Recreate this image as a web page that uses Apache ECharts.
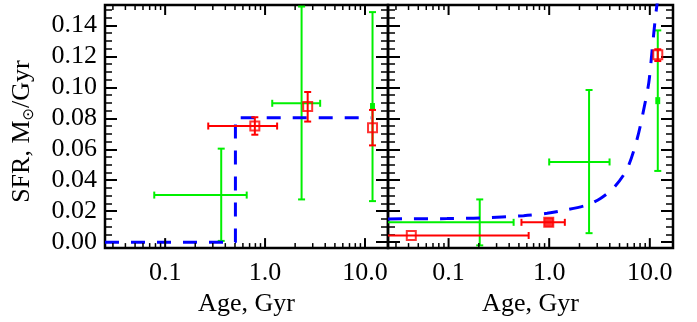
<!DOCTYPE html>
<html><head><meta charset="utf-8">
<script src="https://cdn.jsdelivr.net/npm/echarts@6/dist/echarts.min.js"></script>
<style>html,body{margin:0;padding:0;background:#fff}#c{width:697px;height:322px}</style>
</head><body><div id="c"></div>
<script>
// ---- tick values ----
const xTickLabels = [0.1, 1, 10];
const xMinorTicks = [0.03,0.04,0.05,0.06,0.07,0.08,0.09,0.2,0.3,0.4,0.5,0.6,0.7,0.8,0.9,2,3,4,5,6,7,8,9];
const yTickLabels = [0, 0.02, 0.04, 0.06, 0.08, 0.10, 0.12, 0.14];
const yMinorTicks = [0.005,0.01,0.015,0.025,0.03,0.035,0.045,0.05,0.055,0.065,0.07,0.075,0.085,0.09,0.095,0.105,0.11,0.115,0.125,0.13,0.135,0.145,0.15];
// ---- data: [age, sfr, ageLo, ageHi, sfrLo, sfrHi] ----
const leftRed   = [[0.79,0.075,0.27,1.32,0.0694,0.0807],[2.67,0.0876,null,null,0.0779,0.097],[11.9,0.0739,null,null,0.0625,0.0854]];
const leftGreen = [[0.364,0.0304,0.0778,0.655,0.0008,0.0604],[2.32,0.0897,1.18,3.56,0.0276,0.1522],[11.9,0.0876,11.5,12.3,0.0265,0.1486]];
const leftModel = [[0.025,0],[0.505,0],[0.505,0.0803],[11.5,0.0803]];
const rightRed   = [[0.0426,0.0043,0.02,0.625,null,null],[0.99,0.0128,0.53,1.43,null,null],[12.0,0.121,null,null,0.117,0.1246]];
const rightGreen = [[0.204,0.0128,0.02,0.443,-0.0021,0.0276],[2.49,0.0518,1.0,3.98,0.0058,0.0983],[12.0,0.0914,11.6,12.4,0.046,0.1368]];
const rightModel = [[0.025,0.0150],[0.0964,0.0152],[0.206,0.0156],[0.557,0.0171],[0.953,0.0186],[1.39,0.0205],[2.38,0.0240],[3.23,0.0282],[4.38,0.0351],[5.96,0.0475],[7.49,0.0668],[8.72,0.0860],[9.78,0.1032],[10.56,0.1246],[11.4,0.146],[11.85,0.1546]];

const XMIN = 0.025, XMAX = 17, YMIN = -0.00385, YMAX = 0.1532;
const FONT = 'Liberation Serif';
const RED = '#ff0000', GREEN = '#00f000', BLUE = '#0000ff';

function xAxis(g){
  return {type:'log', gridIndex:g, min:XMIN, max:XMAX, position:'bottom',
    axisLine:{show:false,onZero:false}, splitLine:{show:false}, axisTick:{show:false},
    axisLabel:{customValues:xTickLabels, formatter:v=>Number(v).toFixed(1), fontFamily:FONT, fontSize:26, color:'#000', margin:12},
    name:'Age, Gyr', nameLocation:'middle', nameGap:40, nameTextStyle:{fontFamily:FONT, fontSize:26, color:'#000'}};
}
function yAxes(g){
  const base = {type:'value', gridIndex:g, min:YMIN, max:YMAX, axisLine:{show:false,onZero:false}, splitLine:{show:false}};
  const tk = (vals,len,w)=>({show:true,inside:true,length:len,customValues:vals,lineStyle:{color:'#000',width:w}});
  const first = Object.assign({}, base, {position:'left', axisTick:tk(yTickLabels,12,2), axisLabel:{show:false}});
  if (g === 0) {
    first.axisLabel = {customValues:yTickLabels, formatter:v=>Number(v).toFixed(2), fontFamily:FONT, fontSize:26, color:'#000', margin:8};
    first.name = '{n|SFR, M}{o|⊙}{n|/Gyr}';
    first.nameLocation = 'middle';
    first.nameGap = 56;
    first.nameTextStyle = {fontFamily:FONT, fontSize:26, color:'#000', padding:[0,10,0,0],
      rich:{n:{fontFamily:FONT, fontSize:26, lineHeight:26, verticalAlign:'top', color:'#000'},
            o:{fontFamily:'DejaVu Sans', fontSize:15, lineHeight:40, verticalAlign:'middle', color:'#000'}}};
  }
  return [
    first,
    Object.assign({}, base, {position:'left', axisTick:tk(yMinorTicks,7,1.5), axisLabel:{show:false}}),
    Object.assign({}, base, {position:'right', axisTick:tk(yTickLabels,12,2), axisLabel:{show:false}}),
    Object.assign({}, base, {position:'right', axisTick:tk(yMinorTicks,7,1.5), axisLabel:{show:false}})
  ];
}

// plot-area bounds in pixels, obtained through the axis scales
function bounds(api){
  const a = api.coord([XMIN, YMIN]), b = api.coord([XMAX, YMAX]);
  return {l:Math.min(a[0],b[0]), r:Math.max(a[0],b[0]), t:Math.min(a[1],b[1]), b:Math.max(a[1],b[1])};
}
function errRender(color){
  return function(params, api){
    const B = bounds(api);
    const cx = v => Math.max(B.l, Math.min(B.r, v));
    const cy = v => Math.max(B.t, Math.min(B.b, v));
    const v = i => api.value(i);
    const x = v(0), y = v(1), xlo = v(2), xhi = v(3), ylo = v(4), yhi = v(5);
    const P = api.coord([x, y]);
    const cap = 3.5, kids = [];
    const ln = (x1,y1,x2,y2)=>({type:'line', shape:{x1,y1,x2,y2}, style:{stroke:color, lineWidth:2}});
    if (!isNaN(xlo) && !isNaN(xhi)) {
      const a = api.coord([xlo, y])[0], b = api.coord([xhi, y])[0];
      const ca = cx(a), cb = cx(b);
      kids.push(ln(ca, P[1], cb, P[1]));
      if (ca === a) kids.push(ln(a, P[1]-cap, a, P[1]+cap));
      if (cb === b) kids.push(ln(b, P[1]-cap, b, P[1]+cap));
    }
    if (!isNaN(ylo) && !isNaN(yhi)) {
      const a = api.coord([x, ylo])[1], b = api.coord([x, yhi])[1];
      const ca = cy(a), cb = cy(b);
      kids.push(ln(P[0], ca, P[0], cb));
      if (ca === a) kids.push(ln(P[0]-cap, a, P[0]+cap, a));
      if (cb === b) kids.push(ln(P[0]-cap, b, P[0]+cap, b));
    }
    return {type:'group', children:kids};
  };
}
// x-axis ticks (log positions) on bottom and top edges, placed through the axis scale
function xTickRender(params, api){
  const v = api.value(0);
  const bot = api.coord([v, YMIN]), top = api.coord([v, YMAX]);
  const major = api.value(2) === 1;
  const len = major ? 10 : 5, w = major ? 2 : 1.5;
  return {type:'group', children:[
    {type:'line', shape:{x1:bot[0], y1:bot[1], x2:bot[0], y2:bot[1]-len}, style:{stroke:'#000', lineWidth:w}},
    {type:'line', shape:{x1:top[0], y1:top[1], x2:top[0], y2:top[1]+len}, style:{stroke:'#000', lineWidth:w}}
  ]};
}
const tickData = xTickLabels.map(v=>[v, 0.07, 1]).concat(xMinorTicks.map(v=>[v, 0.07, 0]));
const toData = arr => arr.map(r => r.map(v => v === null ? '-' : v));
function panelSeries(g, red, green, model, fillIdx){
  const xi = g, yi = g*4;
  return [
    {type:'custom', xAxisIndex:xi, yAxisIndex:yi, renderItem:xTickRender, dimensions:['x','y','major'], encode:{x:0,y:1}, data:tickData, z:6, silent:true},
    {type:'custom', xAxisIndex:xi, yAxisIndex:yi, renderItem:errRender(GREEN), dimensions:['x','y','xlo','xhi','ylo','yhi'], encode:{x:0,y:1}, data:toData(green), z:2, silent:true},
    {type:'line', xAxisIndex:xi, yAxisIndex:yi, data:model, showSymbol:false, symbol:'none', smooth:g===1 ? 0.3 : false,
      lineStyle:{color:BLUE, width:3, type:[14,12]}, z:3, silent:true, animation:false},
    {type:'custom', xAxisIndex:xi, yAxisIndex:yi, renderItem:errRender(RED), dimensions:['x','y','xlo','xhi','ylo','yhi'], encode:{x:0,y:1}, data:toData(red), z:4, silent:true},
    {type:'scatter', xAxisIndex:xi, yAxisIndex:yi, data:red.map((r,i)=>({value:[r[0], r[1]], itemStyle:{color: i===fillIdx ? RED : 'rgba(255,255,255,0)'}})),
      symbol:'rect', symbolSize:9, itemStyle:{borderColor:RED, borderWidth:2}, z:5, silent:true}
  ];
}

const chart = echarts.init(document.getElementById('c'), null, {renderer:'canvas'});
chart.setOption({
  animation:false,
  backgroundColor:'#fff',
  grid:[
    {left:105, top:5, width:283, height:245, show:true, borderColor:'#000', borderWidth:2.5, backgroundColor:'rgba(0,0,0,0)'},
    {left:388, top:5, width:285, height:245, show:true, borderColor:'#000', borderWidth:2.5, backgroundColor:'rgba(0,0,0,0)'}
  ],
  xAxis: [xAxis(0), xAxis(1)],
  yAxis: yAxes(0).concat(yAxes(1)),
  series: panelSeries(0, leftRed, leftGreen, leftModel, -1).concat(panelSeries(1, rightRed, rightGreen, rightModel, 1))
});
</script></body></html>
